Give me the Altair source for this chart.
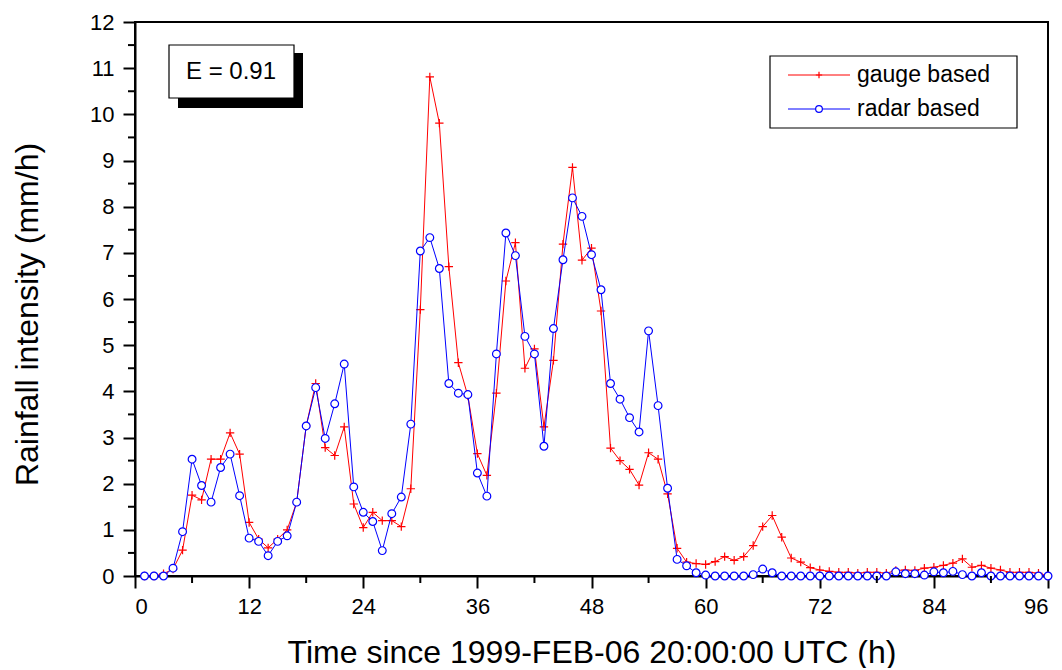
import altair as alt
import pandas as pd

hours = list(range(1, 97))
gauge = [0, 0, 0.05, 0.15, 0.56, 1.75, 1.65, 2.53, 2.53, 3.10,
         2.64, 1.16, 0.8, 0.61, 0.8, 1.0, 1.6, 3.25, 4.17, 2.78,
         2.61, 3.23, 1.56, 1.05, 1.38, 1.2, 1.2, 1.07, 1.89, 5.77,
         10.81, 9.81, 6.70, 4.62, 3.9, 2.65, 2.18, 3.96, 6.39, 7.22,
         4.50, 4.92, 3.23, 4.67, 7.19, 8.85, 6.84, 7.10, 5.74, 2.77,
         2.50, 2.31, 1.97, 2.67, 2.53, 1.78, 0.60, 0.3, 0.27, 0.25,
         0.31, 0.42, 0.34, 0.42, 0.66, 1.07, 1.31, 0.84, 0.39, 0.30,
         0.18, 0.13, 0.10, 0.08, 0.08, 0.06, 0.08, 0.08, 0.06, 0.12,
         0.13, 0.12, 0.17, 0.19, 0.23, 0.28, 0.37, 0.19, 0.23, 0.17,
         0.13, 0.08, 0.08, 0.08, 0.06, 0.0]
radar = [0, 0, 0, 0.17, 0.96, 2.53, 1.96, 1.60, 2.35, 2.64,
         1.74, 0.82, 0.75, 0.44, 0.75, 0.87, 1.60, 3.25, 4.08, 2.98,
         3.73, 4.59, 1.93, 1.38, 1.18, 0.55, 1.35, 1.71, 3.29, 7.04,
         7.33, 6.66, 4.17, 3.96, 3.93, 2.23, 1.73, 4.81, 7.43, 6.94,
         5.19, 4.81, 2.81, 5.36, 6.85, 8.19, 7.79, 6.96, 6.20, 4.17,
         3.83, 3.43, 3.12, 5.31, 3.69, 1.90, 0.36, 0.22, 0.07, 0.02,
         0, 0, 0, 0, 0.03, 0.15, 0.07, 0, 0, 0,
         0, 0, 0, 0, 0, 0, 0, 0, 0, 0.09,
         0.05, 0.05, 0.02, 0.09, 0.07, 0.10, 0.03, 0, 0.07, 0,
         0, 0, 0, 0, 0, 0]

x_ticks = list(range(0, 97, 12))
x_minor = list(range(6, 97, 12))
y_ticks = list(range(0, 13))
y_minor = [i + 0.5 for i in range(12)]

series_names = ["gauge based", "radar based"]
annotation = "E = 0.91"
x_title = "Time since 1999-FEB-06 20:00:00 UTC (h)"
y_title = "Rainfall intensity (mm/h)"

RED = "#ff0000"
BLUE = "#0000ff"
W, H = 913, 554

xs = alt.Scale(domain=[0, 96], nice=False, zero=False)
ys = alt.Scale(domain=[0, 12], nice=False)
x_axis = alt.Axis(values=x_ticks, title=x_title, format="d",
                  titleY=86, titleBaseline="alphabetic")
y_axis = alt.Axis(values=y_ticks, title=y_title, format="d",
                  titleX=-98, titleY=292, titleBaseline="alphabetic")

dg = pd.DataFrame({"h": hours, "v": gauge})
dr = pd.DataFrame({"h": hours, "v": radar})

x_enc = alt.X("h:Q", scale=xs, axis=x_axis)
y_enc = alt.Y("v:Q", scale=ys, axis=y_axis)

cross = "M-1,0L1,0M0,-1L0,1"

g_line = alt.Chart(dg).mark_line(color=RED, strokeWidth=1).encode(x=x_enc, y=y_enc)
g_pts = alt.Chart(dg).mark_point(shape=cross, filled=False, stroke=RED, strokeWidth=1.2,
                                 size=70, opacity=1).encode(x=x_enc, y=y_enc)
r_line = alt.Chart(dr).mark_line(color=BLUE, strokeWidth=1).encode(x=x_enc, y=y_enc)
r_pts = alt.Chart(dr).mark_point(shape="circle", filled=True, fill="white", stroke=BLUE,
                                 strokeWidth=1.2, size=60, opacity=1).encode(x=x_enc, y=y_enc)

# minor ticks (same fields / axes so the shared axes are kept)
ym = alt.Chart(pd.DataFrame({"v": y_minor})).mark_rule(color="black", strokeWidth=2).encode(
    y=y_enc, x=alt.value(-7), x2=alt.value(0))
xm = alt.Chart(pd.DataFrame({"h": x_minor})).mark_rule(color="black", strokeWidth=2).encode(
    x=x_enc, y=alt.value(H), y2=alt.value(H + 7))

one = pd.DataFrame({"a": [0]})

# E annotation box with shadow
shadow = alt.Chart(one).mark_rect(color="black").encode(
    x=alt.value(43), x2=alt.value(168), y=alt.value(31), y2=alt.value(86))
ebox = alt.Chart(one).mark_rect(fill="white", stroke="black", strokeWidth=1.2).encode(
    x=alt.value(34), x2=alt.value(159), y=alt.value(23), y2=alt.value(76))
etext = alt.Chart(one).mark_text(fontSize=24, align="center", baseline="middle", color="black").encode(
    x=alt.value(96), y=alt.value(50), text=alt.value(annotation))

# legend
lbox = alt.Chart(one).mark_rect(fill="white", stroke="black", strokeWidth=1.2).encode(
    x=alt.value(635), x2=alt.value(882), y=alt.value(34), y2=alt.value(106))
lg_line = alt.Chart(one).mark_rule(color=RED, strokeWidth=1).encode(
    x=alt.value(653), x2=alt.value(715), y=alt.value(53))
lg_pt = alt.Chart(one).mark_point(shape=cross, filled=False, stroke=RED, strokeWidth=1.2, size=40,
                                  opacity=1).encode(x=alt.value(684), y=alt.value(53))
lg_txt = alt.Chart(one).mark_text(fontSize=23, align="left", baseline="middle", color="black").encode(
    x=alt.value(722), y=alt.value(53), text=alt.value(series_names[0]))
lr_line = alt.Chart(one).mark_rule(color=BLUE, strokeWidth=1).encode(
    x=alt.value(653), x2=alt.value(715), y=alt.value(87))
lr_pt = alt.Chart(one).mark_point(shape="circle", filled=True, fill="white", stroke=BLUE,
                                  strokeWidth=1.2, size=45, opacity=1).encode(x=alt.value(684), y=alt.value(87))
lr_txt = alt.Chart(one).mark_text(fontSize=23, align="left", baseline="middle", color="black").encode(
    x=alt.value(722), y=alt.value(87), text=alt.value(series_names[1]))

chart = alt.layer(
    g_line, g_pts, r_line, r_pts, ym, xm,
    shadow, ebox, etext,
    lbox, lg_line, lg_pt, lg_txt, lr_line, lr_pt, lr_txt,
).properties(
    width=W, height=H,
    padding={"left": 127, "top": 14, "right": 6, "bottom": 92},
    autosize=alt.AutoSizeParams(type="none"),
).configure(
    font="Liberation Sans",
).configure_view(
    stroke="black", strokeWidth=2,
).configure_axis(
    domainColor="black", domainWidth=2, tickColor="black", tickWidth=2, tickSize=12,
    grid=False, labelFontSize=22, labelColor="black", titleColor="black",
    titleFontSize=32, titleFontWeight="normal", labelPadding=9,
).configure_axisX(
    labelPadding=8,
)

chart.save("out.html", embed_options={"renderer": "svg", "actions": False})
